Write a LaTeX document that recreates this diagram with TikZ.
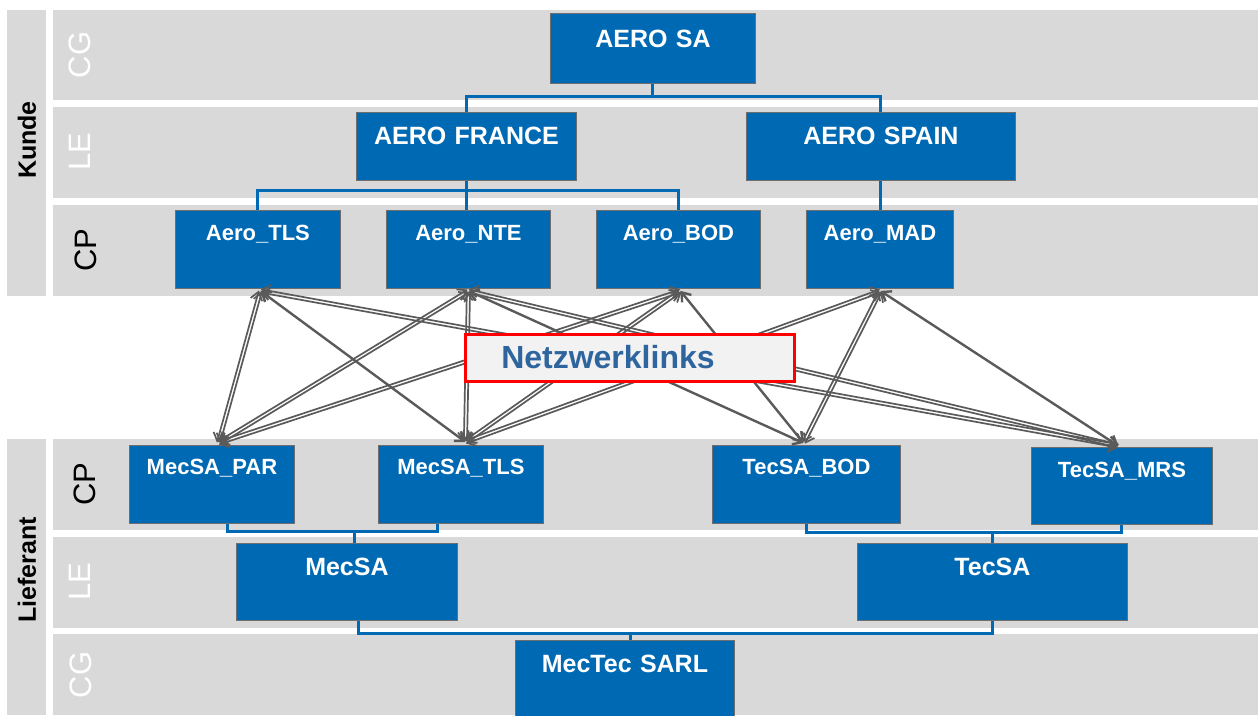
\documentclass[tikz,border=0pt]{standalone}
\usepackage{fontspec}
\setmainfont{Liberation Sans}
\usetikzlibrary{arrows.meta,calc}
\definecolor{band}{RGB}{217,217,217}
\definecolor{boxblue}{RGB}{0,105,180}
\definecolor{boxedge}{RGB}{110,110,110}
\definecolor{lnkgray}{RGB}{90,90,90}
\definecolor{netblue}{RGB}{47,101,158}
\definecolor{netfill}{RGB}{242,242,242}
\newcommand\singlelink[2]{\draw[lnk,line width=2.4pt] (#1) -- (#2);}
\newcommand\doublelink[2]{%
  \draw[lnk] ($(#1)!1.6pt!90:(#2)$) -- ($(#2)!1.6pt!-90:(#1)$);
  \draw[lnk] ($(#1)!1.6pt!-90:(#2)$) -- ($(#2)!1.6pt!90:(#1)$);}
\begin{document}
\begin{tikzpicture}[x=1pt,y=-1pt,
  orgbox/.style={rectangle, fill=boxblue, draw=boxedge, line width=0.9pt, inner sep=0pt,
    text=white, font=\bfseries\fontsize{25}{30}\selectfont, anchor=north west, align=center},
  cpbox/.style={orgbox, font=\bfseries\fontsize{22}{26}\selectfont},
  tree/.style={draw=boxblue, line width=3pt},
  lnk/.style={draw=lnkgray, line width=1.7pt,
    {Straight Barb[length=8pt,width=12pt]}-{Straight Barb[length=8pt,width=12pt]}},
  rowlbl/.style={rotate=90, font=\fontsize{31}{36}\selectfont, inner sep=0pt},
  sidelbl/.style={rotate=90, font=\bfseries\fontsize{25}{30}\selectfont, inner sep=0pt}]
\useasboundingbox (0,0) rectangle (1258,715);
% bands
\fill[band] (7,10) rectangle (46,296);
\fill[band] (7,439) rectangle (46,715);
\fill[band] (53,10) rectangle (1258,100);
\fill[band] (53,107) rectangle (1258,198);
\fill[band] (53,205) rectangle (1258,296);
\fill[band] (53,439) rectangle (1258,530);
\fill[band] (53,537) rectangle (1258,628);
\fill[band] (53,634) rectangle (1258,715);
% side labels
\node[sidelbl] (kunde) at (27,140) {Kunde};
\node[sidelbl] (lief) at (27,570) {Lieferant};
\node[rowlbl, text=white] (r1) at (80,55) {CG};
\node[rowlbl, text=white] (r2) at (80,152) {LE};
\node[rowlbl] (r3) at (86,250) {CP};
\node[rowlbl] (r4) at (85,484) {CP};
\node[rowlbl, text=white] (r5) at (80,582) {LE};
\node[rowlbl, text=white] (r6) at (81,675) {CG};
% boxes
\node[orgbox, text width=205pt, text height=34pt, text depth=36pt] (aeroSA) at (550,13) {AERO SA};
\node[orgbox, text width=220pt, text height=32pt, text depth=36pt] (aeroFR) at (356,112) {AERO FRANCE};
\node[orgbox, text width=269pt, text height=32pt, text depth=36pt] (aeroES) at (746,112) {AERO SPAIN};
\node[cpbox, text width=165pt, text height=30pt, text depth=48pt] (aTLS) at (175,210) {Aero\_TLS};
\node[cpbox, text width=164pt, text height=30pt, text depth=48pt] (aNTE) at (386,210) {Aero\_NTE};
\node[cpbox, text width=164pt, text height=30pt, text depth=48pt] (aBOD) at (596,210) {Aero\_BOD};
\node[cpbox, text width=147pt, text height=30pt, text depth=48pt] (aMAD) at (806,210) {Aero\_MAD};
\node[cpbox, text width=165pt, text height=29pt, text depth=49pt] (mPAR) at (129,445) {MecSA\_PAR};
\node[cpbox, text width=165pt, text height=29pt, text depth=49pt] (mTLS) at (378,445) {MecSA\_TLS};
\node[cpbox, text width=188pt, text height=29pt, text depth=49pt] (tBOD) at (712,445) {TecSA\_BOD};
\node[cpbox, text width=181pt, text height=30pt, text depth=47pt] (tMRS) at (1031,447) {TecSA\_MRS};
\node[orgbox, text width=221pt, text height=32pt, text depth=45pt] (mecSA) at (236,543) {MecSA};
\node[orgbox, text width=270pt, text height=32pt, text depth=45pt] (tecSA) at (857,543) {TecSA};
\node[orgbox, text width=219pt, text height=32pt, text depth=48pt] (mecTec) at (515,640) {MecTec SARL};
% blue tree connectors
\coordinate (j1) at ($(aeroSA.south)+(0,13)$);
\draw[tree] (aeroSA.south) -- (j1);
\draw[tree] (aeroFR.north) |- (j1) -| (aeroES.north);
\coordinate (j2) at ($(aeroFR.south)+(0,10)$);
\draw[tree] (aeroFR.south) -- (aeroFR.south |- aNTE.north);
\draw[tree] (aTLS.north) |- (j2) -| (aBOD.north);
\draw[tree] (aeroES.south) -- (aeroES.south |- aMAD.north);
\coordinate (j3) at ($(mecSA.north)+(7.5,-12)$);
\draw[tree] ([xshift=15.5pt]mPAR.south) |- (j3) -| ([xshift=-23.5pt]mTLS.south);
\draw[tree] (j3) -- ([xshift=7.5pt]mecSA.north);
\coordinate (j4) at ($(mecTec.north)+(5.5,-7)$);
\draw[tree] ([xshift=11.5pt]mecSA.south) |- (j4) -| (tecSA.south);
\draw[tree] (j4) -- ([xshift=5.5pt]mecTec.north);
\coordinate (j5) at ($(tecSA.north)+(0,-11)$);
\draw[tree] (tBOD.south) |- (j5) -| (tMRS.south);
\draw[tree] (j5) -- (tecSA.north);
% link end points
\coordinate (pTLS) at ($(aTLS.south)+(2.5,2)$);
\coordinate (pNTE) at ($(aNTE.south)+(0,2)$);
\coordinate (pBOD) at ($(aBOD.south)+(2,2)$);
\coordinate (pMAD) at ($(aMAD.south)+(0.5,2)$);
\coordinate (qPAR) at ($(mPAR.north)+(6.5,-2)$);
\coordinate (qTLS) at ($(mTLS.north)+(4.5,-3)$);
\coordinate (qBOD) at ($(tBOD.north)+(-3,-2)$);
\coordinate (qMRS) at ($(tMRS.north)+(-3.5,-1)$);
% links
\doublelink{pTLS}{qPAR}
\singlelink{pTLS}{qTLS}
\doublelink{pTLS}{qMRS}
\doublelink{pNTE}{qPAR}
\doublelink{pNTE}{qTLS}
\singlelink{pNTE}{qBOD}
\doublelink{pNTE}{qMRS}
\doublelink{pBOD}{qPAR}
\doublelink{pBOD}{qTLS}
\singlelink{pBOD}{qBOD}
\doublelink{pMAD}{qTLS}
\doublelink{pMAD}{qBOD}
\singlelink{pMAD}{qMRS}
% label box
\node[anchor=north west, fill=netfill, draw=red, line width=2.5pt, inner sep=0pt,
  text width=329pt, align=left, text height=34pt, text depth=13pt,
  text=netblue, font=\bfseries\fontsize{32}{36}\selectfont] (net) at (464,333) {\hspace*{36pt}Netzwerklinks};
\end{tikzpicture}
\end{document}
